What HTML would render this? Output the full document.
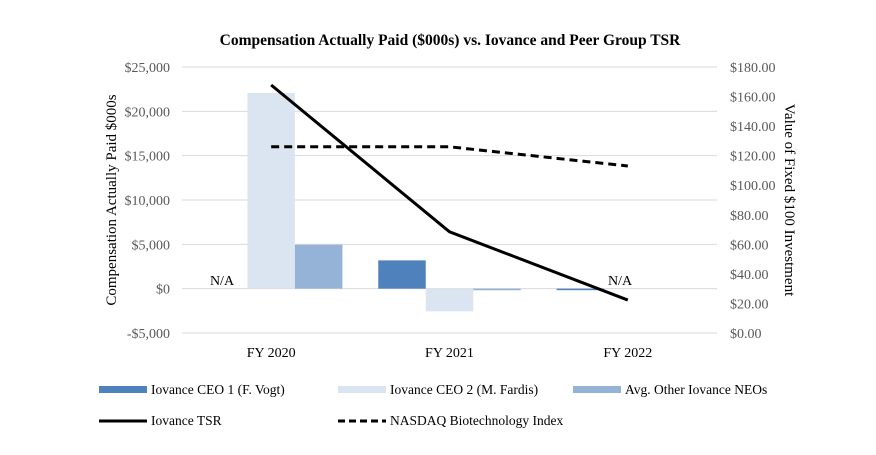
<!DOCTYPE html>
<html><head><meta charset="utf-8"><style>
body{margin:0;background:#fff;}
svg, svg text{font-family:"Liberation Serif","DejaVu Serif",serif !important;}
</style></head><body>
<svg id="chart" width="876" height="450" font-family="Liberation Serif, serif">
<text x="450" y="45" text-anchor="middle" font-size="15.5" font-weight="bold" fill="#000">Compensation Actually Paid ($000s) vs. Iovance and Peer Group TSR</text>
<g id="grid"></g><g id="bars"></g><g id="lines"></g><g id="axes"></g>
<text transform="translate(116,200) rotate(-90)" text-anchor="middle" font-size="15" fill="#000">Compensation Actually Paid $000s</text>
<text transform="translate(785,200) rotate(90)" text-anchor="middle" font-size="15" fill="#000">Value of Fixed $100 Investment</text>
<text x="222" y="285" text-anchor="middle" font-size="14" fill="#000">N/A</text>
<text x="620" y="285" text-anchor="middle" font-size="14" fill="#000">N/A</text>
<g>
<rect x="99" y="386" width="48" height="7" fill="#4f81bd"/>
<text x="151" y="394" font-size="13.5" fill="#000">Iovance CEO 1 (F. Vogt)</text>
<rect x="338" y="386" width="48" height="7" fill="#dbe5f1"/>
<text x="390" y="394" font-size="13.5" fill="#000">Iovance CEO 2 (M. Fardis)</text>
<rect x="573" y="386" width="48" height="7" fill="#95b3d7"/>
<text x="625" y="394" font-size="13.5" fill="#000">Avg. Other Iovance NEOs</text>
<line x1="99" y1="421" x2="147" y2="421" stroke="#000" stroke-width="3"/>
<text x="151" y="425" font-size="13.5" fill="#000">Iovance TSR</text>
<line x1="338" y1="421" x2="386" y2="421" stroke="#000" stroke-width="3" stroke-dasharray="7,4"/>
<text x="390" y="425" font-size="13.5" fill="#000">NASDAQ Biotechnology Index</text>
</g>
</svg>
<script>
const categories=["FY 2020","FY 2021","FY 2022"];
const ceo1=[null,3190,-100];
const ceo2=[22070,-2560,null];
const avgNeo=[4960,-180,null];
const tsr=[167.8,68.5,22.3];
const nasdaq=[126,126,113];
const leftTicks=[-5000,0,5000,10000,15000,20000,25000];
const leftLabels=["-$5,000","$0","$5,000","$10,000","$15,000","$20,000","$25,000"];
const rightTicks=[0,20,40,60,80,100,120,140,160,180];
const rightLabels=["$0.00","$20.00","$40.00","$60.00","$80.00","$100.00","$120.00","$140.00","$160.00","$180.00"];

const NS="http://www.w3.org/2000/svg";
const X0=182,X1=717,YT=67,YB=333;
const yL=v=>YB-(v+5000)/30000*(YB-YT);
const yR=v=>YB-v/180*(YB-YT);
const band=(X1-X0)/categories.length;
const xC=i=>X0+band*(i+0.5);
function mk(tag,attrs,parent){const e=document.createElementNS(NS,tag);for(const k in attrs)e.setAttribute(k,attrs[k]);document.getElementById(parent).appendChild(e);return e;}
leftTicks.forEach((t,i)=>{
  const g=mk('line',{x1:X0,x2:X1,y1:yL(t),y2:yL(t),stroke:'#d9d9d9','stroke-width':1},'grid');
  
  
  const tx=mk('text',{x:170,y:yL(t)+5,'text-anchor':'end','font-size':14,fill:'#595959'},'axes');
  tx.textContent=leftLabels[i];
  
  
});
rightTicks.forEach((t,i)=>{
  const tx=mk('text',{x:730,y:yR(t)+5,'font-size':14,fill:'#595959'},'axes');
  tx.textContent=rightLabels[i];
  
  
});
categories.forEach((c,i)=>{
  const tx=mk('text',{x:xC(i),y:357,'text-anchor':'middle','font-size':14,fill:'#000'},'axes');
  tx.textContent=c;
  
  
});
const bw=47.5;
[[ceo1,'#4f81bd','ceo1'],[ceo2,'#dbe5f1','ceo2'],[avgNeo,'#95b3d7','neo']].forEach((s,k)=>{
  s[0].forEach((v,i)=>{
    if(v===null)return;
    const x=xC(i)-1.5*bw+k*bw;
    const y0=yL(0),y1=yL(v);
    const r=mk('rect',{x:x,y:Math.min(y0,y1),width:bw,height:Math.max(Math.abs(y1-y0),1.5),fill:s[1]},'bars');
    
    
  });
});
const p1=mk('polyline',{points:tsr.map((v,i)=>xC(i)+','+yR(v)).join(' '),fill:'none',stroke:'#000','stroke-width':3},'lines');


const p2=mk('polyline',{points:nasdaq.map((v,i)=>xC(i)+','+yR(v)).join(' '),fill:'none',stroke:'#000','stroke-width':3,'stroke-dasharray':'8,5'},'lines');


</script>
</body></html>
